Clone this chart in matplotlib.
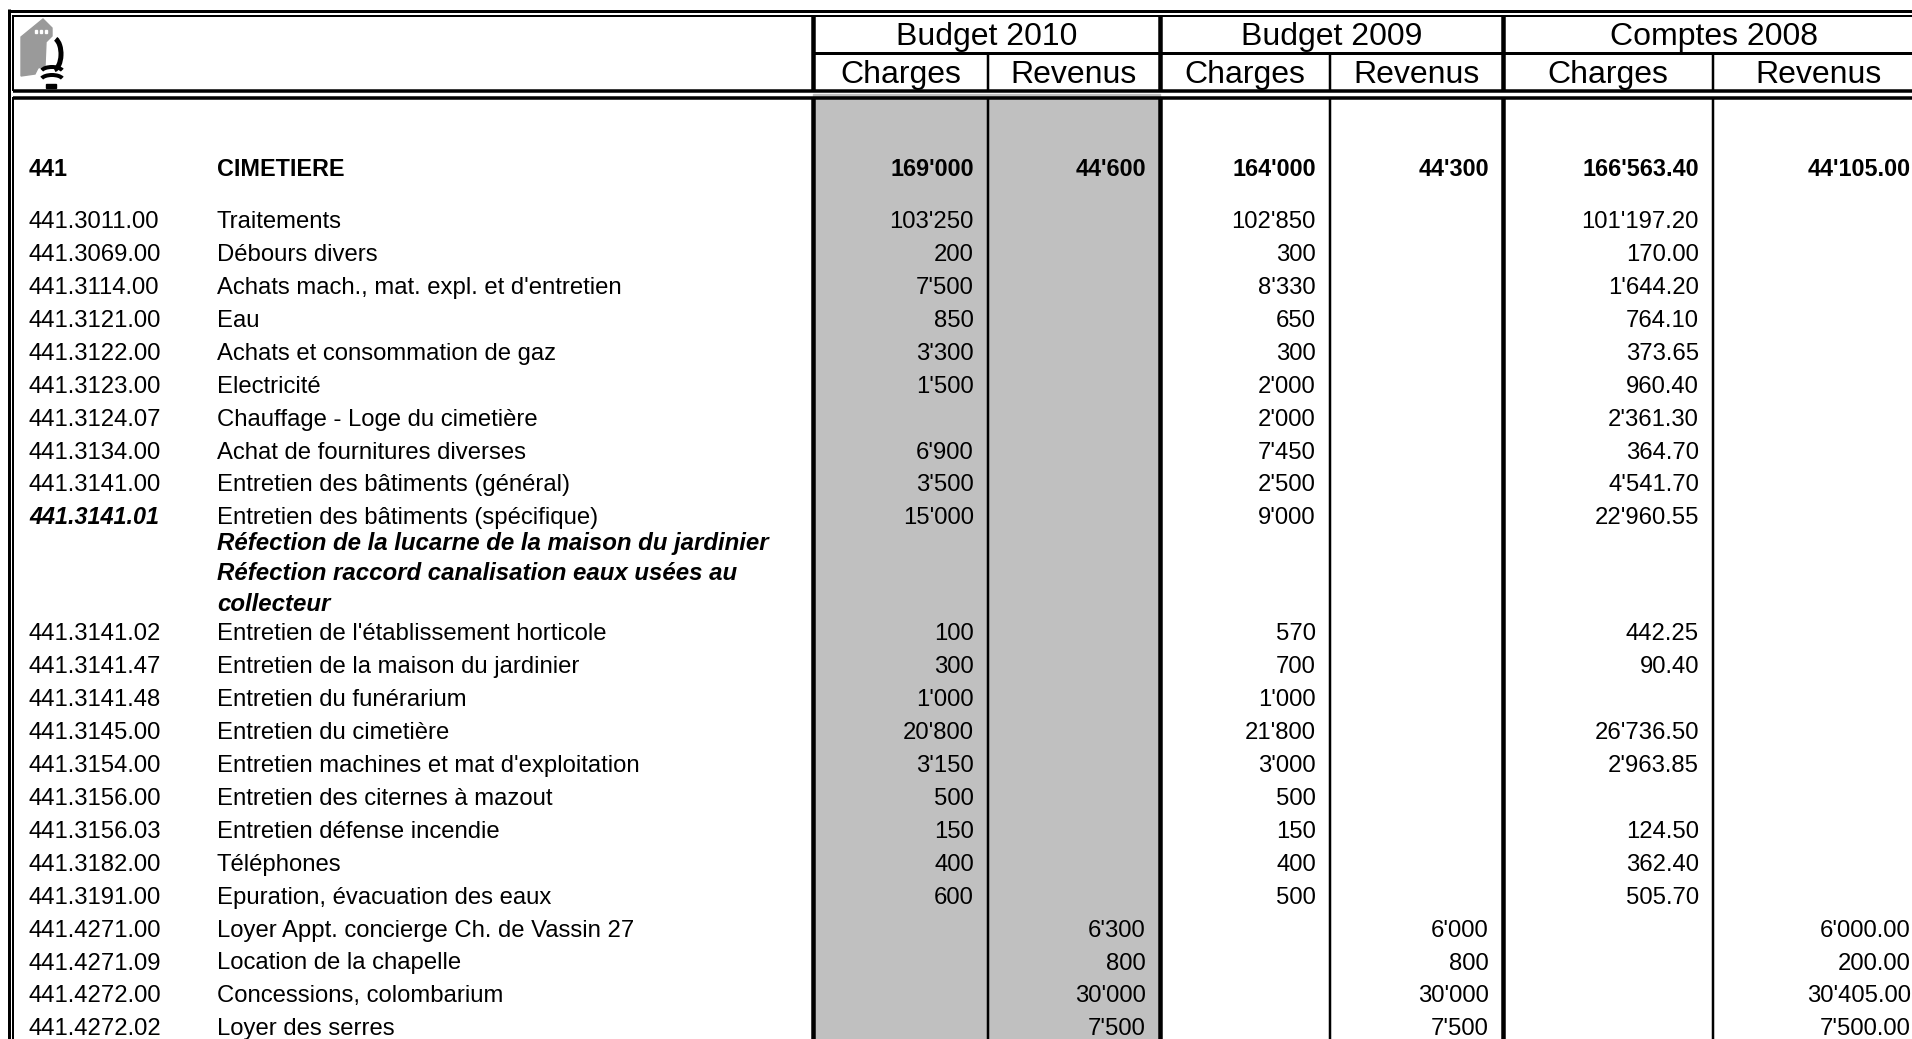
import matplotlib.pyplot as plt
from matplotlib.patches import Rectangle, Polygon, Arc

# --- donnees du tableau ---
groups = ['Budget 2010', 'Budget 2009', 'Comptes 2008']
sub_cols = ['Charges', 'Revenus']

total_code = '441'
total_label = 'CIMETIERE'
total_values = ["169'000", "44'600", "164'000", "44'300", "166'563.40", "44'105.00"]

codes = ['441.3011.00', '441.3069.00', '441.3114.00', '441.3121.00', '441.3122.00',
         '441.3123.00', '441.3124.07', '441.3134.00', '441.3141.00', '441.3141.01',
         '441.3141.02', '441.3141.47', '441.3141.48', '441.3145.00', '441.3154.00',
         '441.3156.00', '441.3156.03', '441.3182.00', '441.3191.00', '441.4271.00',
         '441.4271.09', '441.4272.00', '441.4272.02']
labels = ['Traitements', 'Débours divers', "Achats mach., mat. expl. et d'entretien", 'Eau',
          'Achats et consommation de gaz', 'Electricité', 'Chauffage - Loge du cimetière',
          'Achat de fournitures diverses', 'Entretien des bâtiments (général)',
          'Entretien des bâtiments (spécifique)', "Entretien de l'établissement horticole",
          'Entretien de la maison du jardinier', 'Entretien du funérarium',
          'Entretien du cimetière', "Entretien machines et mat d'exploitation",
          'Entretien des citernes à mazout', 'Entretien défense incendie', 'Téléphones',
          'Epuration, évacuation des eaux', 'Loyer Appt. concierge Ch. de Vassin 27',
          'Location de la chapelle', 'Concessions, colombarium', 'Loyer des serres']
charges_2010 = ["103'250", '200', "7'500", '850', "3'300", "1'500", '', "6'900", "3'500", "15'000",
                '100', '300', "1'000", "20'800", "3'150", '500', '150', '400', '600', '', '', '', '']
revenus_2010 = [''] * 19 + ["6'300", '800', "30'000", "7'500"]
charges_2009 = ["102'850", '300', "8'330", '650', '300', "2'000", "2'000", "7'450", "2'500", "9'000",
                '570', '700', "1'000", "21'800", "3'000", '500', '150', '400', '500', '', '', '', '']
revenus_2009 = [''] * 19 + ["6'000", '800', "30'000", "7'500"]
charges_2008 = ["101'197.20", '170.00', "1'644.20", '764.10', '373.65', '960.40', "2'361.30",
                '364.70', "4'541.70", "22'960.55", '442.25', '90.40', '', "26'736.50",
                "2'963.85", '', '124.50', '362.40', '505.70', '', '', '', '']
revenus_2008 = [''] * 19 + ["6'000.00", '200.00', "30'405.00", "7'500.00"]

note_row = 9
note_lines = ['Réfection de la lucarne de la maison du jardinier',
              'Réfection raccord canalisation eaux usées au',
              'collecteur']

# --- mise en page (pixels) ---
W, H = 1912, 1039
col_lines = [813, 988, 1160, 1330, 1503, 1713, 1925]
gray = '#c0c0c0'
FONT = ['Liberation Sans', 'DejaVu Sans']
fs_body = 17.2
fs_bold = 16.8
fs_note = 17.3
fs_head = 23


def px(w):
    return w * 0.72


def hline(ax, y, x0, x1, w):
    ax.plot([x0, x1], [y, y], color='black', lw=px(w), solid_capstyle='butt', zorder=5)


def vline(ax, x, y0, y1, w):
    ax.plot([x, x], [y0, y1], color='black', lw=px(w), solid_capstyle='butt', zorder=5)


def draw_logo(ax):
    # petite maison grise + crochet noir
    house = [(21, 37), (43, 19), (52, 28), (52, 36), (46, 42), (45, 66), (38, 68),
             (35, 74), (21, 76)]
    ax.add_patch(Polygon(house, closed=True, color='#9a9a9a', zorder=6))
    for cx in (35, 40, 45):
        ax.add_patch(Rectangle((cx, 30), 2.5, 3, color='white', zorder=7))
    ax.add_patch(Arc((53, 54), 16, 32, theta1=-80, theta2=85, color='black', lw=px(5), zorder=7))
    ax.add_patch(Arc((52, 72), 22, 10, theta1=190, theta2=350, color='black', lw=px(4), zorder=7))
    ax.add_patch(Arc((52, 80), 22, 10, theta1=190, theta2=350, color='black', lw=px(4), zorder=7))
    ax.add_patch(Rectangle((46, 84), 10, 4, color='black', zorder=7))


def main():
    plt.rcParams['font.family'] = FONT
    fig = plt.figure(figsize=(W / 100, H / 100), dpi=100)
    ax = fig.add_axes([0, 0, 1, 1])
    ax.set_xlim(0, W)
    ax.set_ylim(H, 0)
    ax.axis('off')

    # fond gris de la colonne Budget 2010
    ax.add_patch(Rectangle((col_lines[0], 94), col_lines[2] - col_lines[0], H - 94,
                           color=gray, zorder=1))

    # cadre
    hline(ax, 10.5, 8, W, 3)
    hline(ax, 15.5, 13, W, 2)
    vline(ax, 9.5, 9, H, 3)
    vline(ax, 13.5, 15, 91, 2)
    vline(ax, 13.5, 97, H, 2)
    hline(ax, 90.5, 13, W, 3.5)
    hline(ax, 97.5, 13, W, 3.5)
    hline(ax, 53, col_lines[0], W, 3)

    thick = {813: 4.5, 1160: 4.5, 1503: 4.5}
    for x in col_lines[:-1]:
        w = thick.get(x, 2.5)
        top = 15 if x in thick else 53
        vline(ax, x, top, 91, w)
        vline(ax, x, 97, H, w)

    draw_logo(ax)

    # en-tetes
    for g, name in enumerate(groups):
        x0, x1 = col_lines[2 * g], col_lines[2 * g + 2]
        ax.text((x0 + x1) / 2, 45, name, ha='center', va='baseline', fontsize=fs_head, zorder=8)
        for s, sub in enumerate(sub_cols):
            a, b = col_lines[2 * g + s], col_lines[2 * g + s + 1]
            ax.text((a + b) / 2, 83, sub, ha='center', va='baseline', fontsize=fs_head, zorder=8)

    right_edges = [x - 14 for x in col_lines[1:]]
    off = 8.5  # centre -> ligne de base

    # ligne de total
    yb = 167 + off
    ax.text(29, yb, total_code, fontsize=fs_bold, fontweight='bold', va='baseline')
    ax.text(217, yb, total_label, fontsize=fs_bold, fontweight='bold', va='baseline')
    for xr, v in zip(right_edges, total_values):
        ax.text(xr, yb, v, fontsize=fs_bold, fontweight='bold', ha='right', va='baseline', zorder=8)

    # lignes de detail
    pitch = 32.93
    series = [charges_2010, revenus_2010, charges_2009, revenus_2009, charges_2008, revenus_2008]
    for i, code in enumerate(codes):
        if i <= note_row:
            yc = 219.5 + i * pitch
        else:
            yc = 631.7 + (i - note_row - 1) * pitch
        yb = yc + off
        special = i == note_row
        ax.text(29, yb, code, fontsize=fs_bold if special else fs_body, va='baseline',
                fontweight='bold' if special else 'normal',
                fontstyle='italic' if special else 'normal')
        ax.text(217, yb, labels[i], fontsize=fs_body, va='baseline')
        for xr, col in zip(right_edges, series):
            if col[i]:
                ax.text(xr, yb, col[i], fontsize=fs_body, ha='right', va='baseline', zorder=8)
        if special:
            for k, line in enumerate(note_lines):
                ynote = [541.4, 571.9, 602.4][k] + off
                ax.text(217, ynote, line, fontsize=fs_note, va='baseline',
                        fontweight='bold', fontstyle='italic')

    fig.savefig('out.png', dpi=100)
    plt.close(fig)


if __name__ == "__main__":
    main()
